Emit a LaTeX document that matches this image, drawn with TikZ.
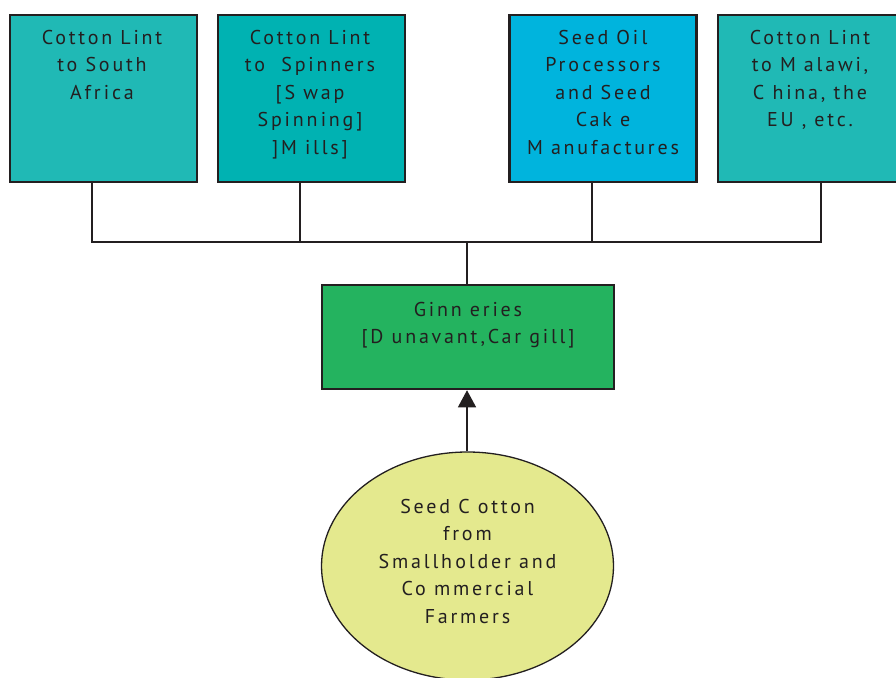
\documentclass[tikz,border=0pt]{standalone}
\usepackage{fontspec}
\usetikzlibrary{arrows.meta,shapes.geometric}
\newfontfamily\labelfont[LetterSpace=14]{PT Sans}
\definecolor{tealA}{HTML}{20B9B5}
\definecolor{tealB}{HTML}{00B2B2}
\definecolor{cyanC}{HTML}{00B4DD}
\definecolor{greenG}{HTML}{24B35F}
\definecolor{yellowE}{HTML}{E4E98E}
\definecolor{inkD}{HTML}{231F20}
\tikzset{
  x=1pt, y=-1pt,
  topbox/.style={draw=inkD, line width=2.5pt, minimum width=187pt, minimum height=167pt, inner sep=0pt},
  lbl/.style={anchor=north, inner sep=0pt, align=center, text=inkD, font=\labelfont\fontsize{20}{27.5}\selectfont},
  wire/.style={draw=inkD, line width=1.3pt},
}
\begin{document}
\begin{tikzpicture}
\clip (0,0) rectangle (896,677);
\fill[white] (0,0) rectangle (896,677);
% top boxes
\node[topbox, fill=tealA] (b1) at (103.5,98.5) {};
\node[topbox, fill=tealB] (b2) at (311.5,98.5) {};
\node[topbox, fill=cyanC] (b3) at (603,98.5) {};
\node[topbox, fill=tealA] (b4) at (811.5,98.5) {};
\node[lbl] (t1) at (102,30) {Cotton Lint\\to South\\Afr\,ica};
\node[lbl] (t2) at (310,30) {Cotton Lint\\to\ \ Spinners\\{[}S wap\\Spinn\,ing]\\]M ills]};
\node[lbl] (t3) at (603,30) {Seed Oi\,l\\Pro\,cessors\\and Seed\\Cak e\\M anufactures};
\node[lbl] (t4) at (810,30) {Cotton Lint\\to M alawi,\\C hina, the\\EU , etc.};
% ginneries
\node[draw=inkD, line width=2.5pt, fill=greenG, minimum width=292pt, minimum height=104pt, inner sep=0pt] (gin) at (468,337) {};
\node[lbl] (tg) at (468,302) {Ginn eries\\{[}D unavant,Car gill]};
% ellipse
\node[ellipse, draw=inkD, line width=1.3pt, fill=yellowE, minimum width=292pt, minimum height=228pt, inner sep=0pt] (ell) at (467.5,566) {};
\node[lbl] (te) at (467.5,499) {Seed C otton\\from\\Smallh\,older and\\Co mmercial\\Farmers};
% connectors
\coordinate (busL) at (92,242);
\coordinate (busR) at (821,242);
\coordinate (busM) at (467,242);
\draw[wire] ([xshift=-11.5pt]b1.south) -- (busL) -- (busR) -- ([xshift=9.5pt]b4.south);
\draw[wire] ([xshift=-11.5pt]b2.south) -- ([xshift=-11.5pt]b2.south |- busL);
\draw[wire] ([xshift=-11pt]b3.south) -- ([xshift=-11pt]b3.south |- busL);
\draw[wire] (busM) -- (busM |- gin.north);
\draw[wire, -{Triangle[width=18pt,length=17pt]}] (ell.north -| busM) -- (busM |- gin.south);
\end{tikzpicture}
\end{document}
